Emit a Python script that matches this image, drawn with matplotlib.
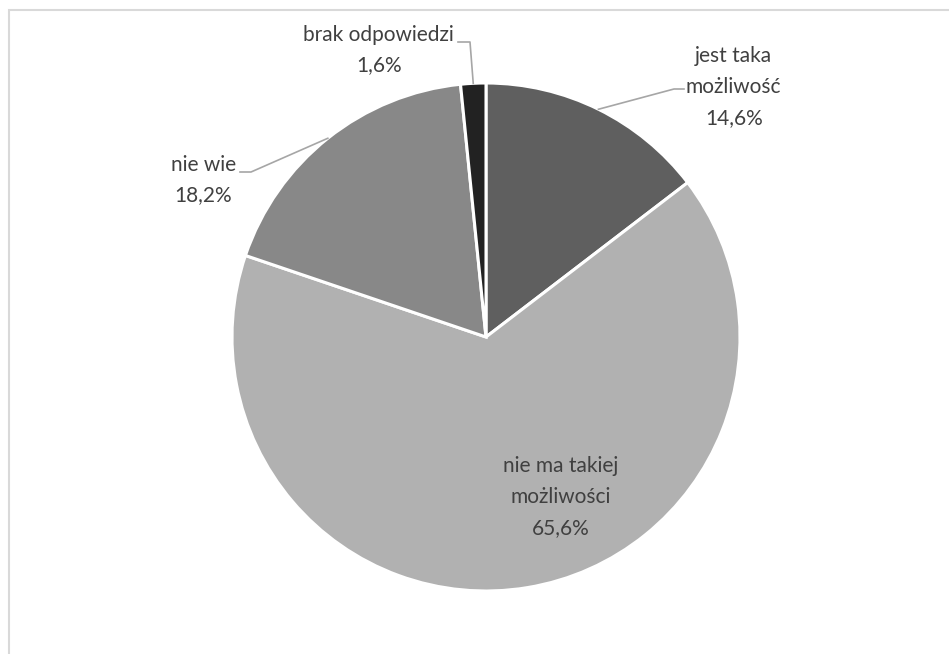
import numpy as np
import matplotlib
matplotlib.use("Agg")
import matplotlib.pyplot as plt
from matplotlib.patches import Rectangle

categories = ["jest taka\nmożliwość", "nie ma takiej\nmożliwości", "nie wie", "brak odpowiedzi"]
values = [14.6, 65.6, 18.2, 1.6]
value_labels = ["14,6%", "65,6%", "18,2%", "1,6%"]
colors = ["#5f5f5f", "#b1b1b1", "#888888", "#222222"]

W, H = 949, 654
fig = plt.figure(figsize=(W / 100, H / 100), dpi=100)
ax = fig.add_axes([0, 0, 1, 1])

def Y(y):
    return H - y

cx, cy, r = 486, 337, 254
wedges, _ = ax.pie(values, colors=colors, startangle=90, counterclock=False,
                   center=(cx, Y(cy)), radius=r, frame=True,
                   wedgeprops=dict(edgecolor="white", linewidth=2.2))
ax.set_xlim(0, W)
ax.set_ylim(0, H)
ax.set_aspect("equal")
ax.axis("off")

# chart border
ax.add_patch(Rectangle((9, Y(1000)), 1200, 1000 - 10, fill=False, edgecolor="#d9d9d9", linewidth=1.5))

font = dict(family=["Lato", "DejaVu Sans"], fontsize=15, color="#404040",
            multialignment="center", linespacing=1.67, va="center")

def edge_point(w):
    mid = np.deg2rad((w.theta1 + w.theta2) / 2)
    return cx + r * np.cos(mid), Y(cy) + r * np.sin(mid)

lc = "#a6a6a6"
# jest taka możliwość
ax.text(686, Y(87), categories[0] + "\n" + value_labels[0], ha="left", **font)
px, py = edge_point(wedges[0])
ax.plot([684, 674, px], [Y(89), Y(89), py], color=lc, lw=1.2)
# nie ma takiej możliwości (inside)
ax.text(561, Y(497), categories[1] + "\n" + value_labels[1], ha="center", **font)
# nie wie
ax.text(236, Y(180), categories[2] + "\n" + value_labels[2], ha="right", **font)
px, py = edge_point(wedges[2])
ax.plot([240, 251, px], [Y(172), Y(172), py], color=lc, lw=1.2)
# brak odpowiedzi
ax.text(454, Y(50), categories[3] + "\n" + value_labels[3], ha="right", **font)
px, py = edge_point(wedges[3])
ax.plot([458, 470, px], [Y(42), Y(42), py], color=lc, lw=1.2)

fig.savefig("out.png", dpi=100, facecolor="white")
